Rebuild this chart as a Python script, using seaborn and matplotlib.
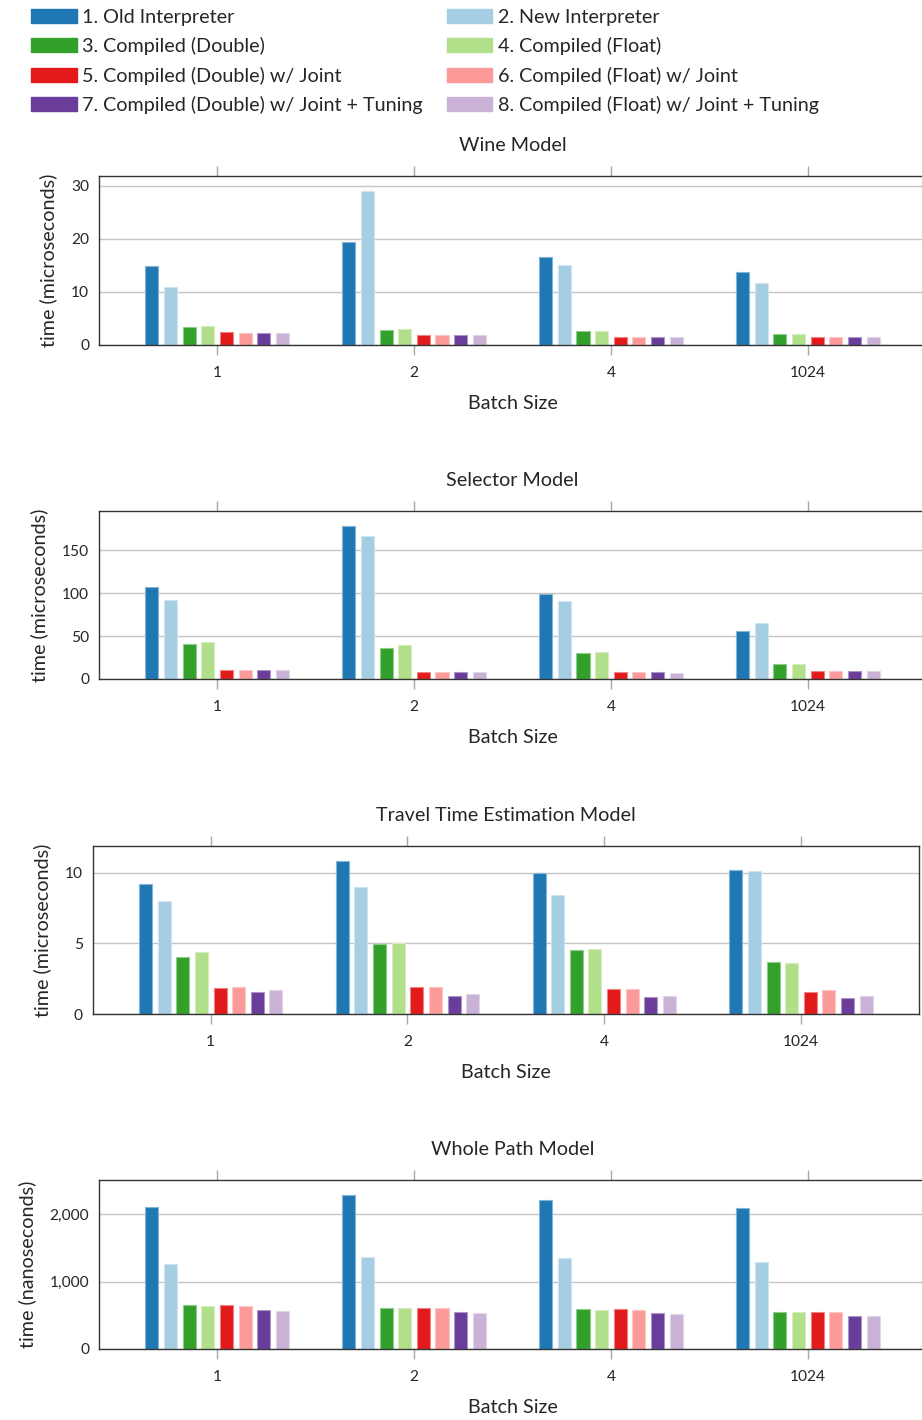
import matplotlib
matplotlib.use('Agg')
import matplotlib.pyplot as plt
import matplotlib.ticker as mticker
from matplotlib.patches import Patch
import numpy as np
import pandas as pd
import seaborn as sns

# batch sizes on the x axis
batch_sizes = ['1', '2', '4', '1024']

configs = ['1. Old Interpreter', '2. New Interpreter',
           '3. Compiled (Double)', '4. Compiled (Float)',
           '5. Compiled (Double) w/ Joint', '6. Compiled (Float) w/ Joint',
           '7. Compiled (Double) w/ Joint + Tuning', '8. Compiled (Float) w/ Joint + Tuning']

colors = ['#1f78b4', '#a6cee3', '#33a02c', '#b2df8a',
          '#e31a1c', '#fb9a99', '#6a3d9a', '#cab2d6']

# one row per config, one column per batch size
wine_times = [
    [14.8, 19.4, 16.6, 13.8],
    [10.9, 28.9, 15.0, 11.7],
    [3.45, 2.9, 2.6, 2.1],
    [3.6, 2.95, 2.7, 2.1],
    [2.45, 1.9, 1.5, 1.5],
    [2.3, 1.8, 1.5, 1.5],
    [2.3, 1.85, 1.5, 1.5],
    [2.3, 1.8, 1.5, 1.5],
]
selector_times = [
    [107.7, 178, 98.8, 56.5],
    [92.2, 167, 90.7, 65.5],
    [41, 36, 29.8, 17.4],
    [43.4, 39.5, 31.7, 17.4],
    [10.8, 8.5, 7.7, 9.7],
    [10.8, 8.5, 7.7, 9.7],
    [10.8, 8.5, 7.7, 9.7],
    [10.8, 8.5, 7.5, 9.7],
]
travel_times = [
    [9.22, 10.8, 10.0, 10.2],
    [8.02, 8.96, 8.4, 10.1],
    [4.02, 4.92, 4.52, 3.67],
    [4.35, 5.03, 4.59, 3.58],
    [1.83, 1.88, 1.76, 1.53],
    [1.93, 1.88, 1.76, 1.67],
    [1.55, 1.29, 1.2, 1.11],
    [1.69, 1.42, 1.25, 1.27],
]
whole_path_times = [
    [2105, 2283, 2208, 2095],
    [1268, 1372, 1352, 1292],
    [649, 609, 590, 545],
    [634, 604, 585, 545],
    [649, 609, 590, 545],
    [634, 604, 585, 545],
    [585, 545, 530, 496],
    [564, 540, 520, 490],
]

panels = [
    ('Wine Model', wine_times, 'time (microseconds)', [0, 10, 20, 30]),
    ('Selector Model', selector_times, 'time (microseconds)', [0, 50, 100, 150]),
    ('Travel Time Estimation Model', travel_times, 'time (microseconds)', [0, 5, 10]),
    ('Whole Path Model', whole_path_times, 'time (nanoseconds)', [0, 1000, 2000]),
]

sns.set_style('white')
plt.rcParams['font.family'] = ['Lato', 'DejaVu Sans']

W, H = 922, 1420
fig = plt.figure(figsize=(W / 100, H / 100), dpi=100)

# axes boxes in pixels: left, top, right, bottom
boxes = [(99, 176, 926, 345), (99, 511, 926, 679), (92.7, 846, 919, 1014), (99, 1180, 926, 1349)]
FS = 14.2

for (title, times, ylabel, yticks), (l, t, r, b) in zip(panels, boxes):
    ax = fig.add_axes([l / W, 1 - b / H, (r - l) / W, (b - t) / H])
    df = pd.DataFrame([(batch_sizes[j], configs[i], times[i][j])
                       for i in range(len(configs)) for j in range(len(batch_sizes))],
                      columns=['batch', 'config', 'time'])
    sns.barplot(data=df, x='batch', y='time', hue='config', order=batch_sizes,
                hue_order=configs, palette=colors, saturation=1, width=0.757, gap=0.3,
                errorbar=None, legend=False, ax=ax)
    for p in ax.patches:
        fc = np.array(p.get_facecolor())
        p.set_edgecolor(tuple(0.55 * fc[:3] + 0.45))
        p.set_linewidth(0.8)

    ax.set_xlim(-0.6, 3.6)
    ax.set_ylim(0, np.max(times) * 1.1)
    ax.set_yticks(yticks)
    if yticks[-1] >= 1000:
        ax.yaxis.set_major_formatter(mticker.FuncFormatter(lambda v, _: f'{v:,.0f}'))
    ax.yaxis.grid(True, color='#c4c4c4', linewidth=1)
    ax.set_axisbelow(True)
    ax.tick_params(axis='x', top=True, bottom=True, direction='out', length=7.5,
                   width=1, color='#a8a8a8', labelsize=11.2, pad=7.5)
    ax.tick_params(axis='y', length=0, labelsize=11.2, pad=7)
    for s in ax.spines.values():
        s.set_color('#333333')
        s.set_linewidth(1)
    ax.set_xlabel('Batch Size', fontsize=FS, labelpad=11)
    ax.set_ylabel(ylabel, fontsize=FS, labelpad=10)
    ax.set_title(title, fontsize=FS, pad=18)

handles = [Patch(facecolor=c, edgecolor=c) for c in colors]
for col, x0 in enumerate([31, 446.7]):
    fig.legend(handles[col::2], configs[col::2], loc='upper left',
               bbox_to_anchor=(x0 / W, 1 - 8.5 / H), frameon=False, fontsize=FS,
               borderpad=0, borderaxespad=0, handlelength=2.31, handleheight=0.75,
               handletextpad=0.3, labelspacing=0.58)

fig.savefig('out.png', dpi=100)
